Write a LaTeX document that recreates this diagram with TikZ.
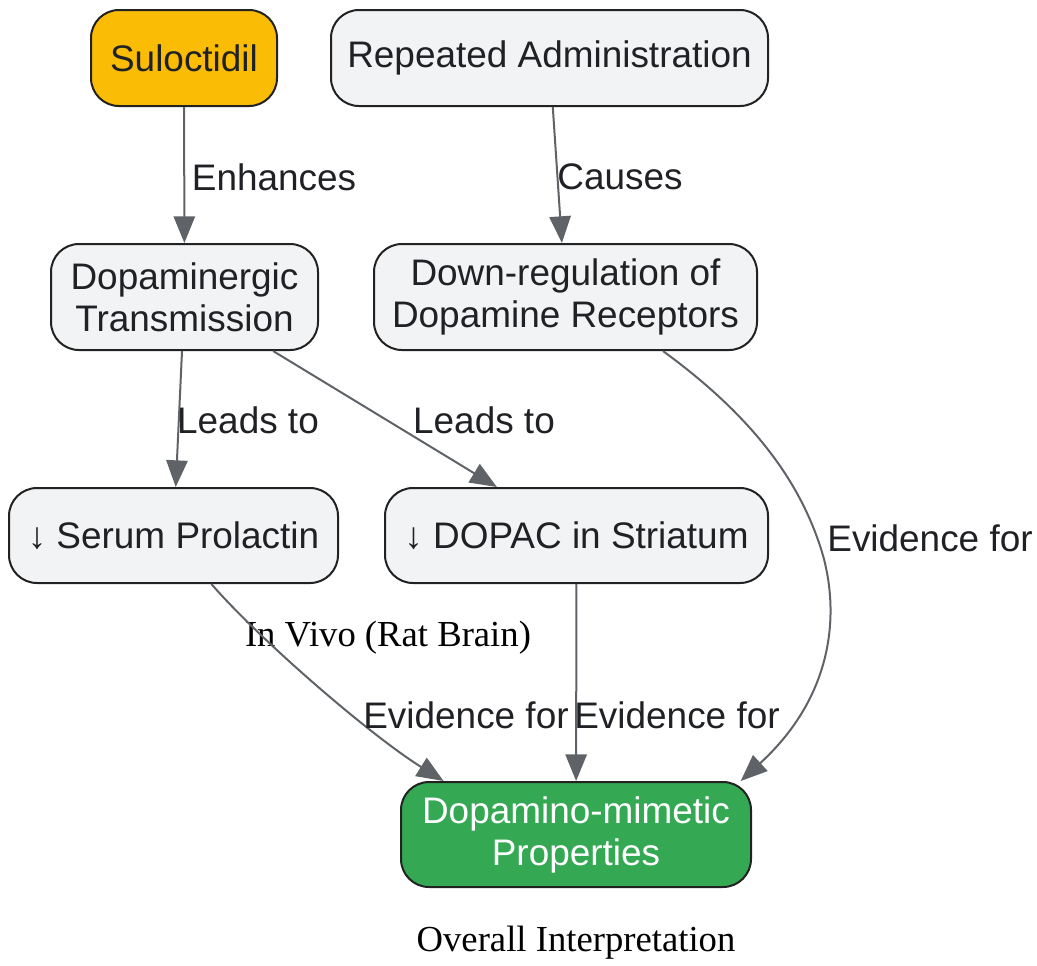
\documentclass[tikz,border=0pt]{standalone}
\usepackage{fontspec}
\setmainfont{Liberation Sans}
\newfontfamily\titlefont{Liberation Serif}
\usetikzlibrary{arrows.meta}

\definecolor{boxgray}{HTML}{F1F3F4}
\definecolor{boxline}{HTML}{222222}
\definecolor{drugyellow}{HTML}{FBBC05}
\definecolor{resultgreen}{HTML}{34A853}
\definecolor{edgegray}{HTML}{5F6368}
\definecolor{inktext}{HTML}{202124}

\begin{document}
\begin{tikzpicture}[x=0.75pt,y=-0.75pt,
	box/.style={draw=boxline, line width=1.5pt, fill=boxgray, rounded corners=21pt,
		text=inktext, align=center, inner sep=0pt,
		font=\fontsize{27.7}{31.5}\selectfont},
	edge/.style={draw=edgegray, line width=1.5pt, -{Triangle[length=20pt,width=16pt]}},
	lbl/.style={text=inktext, font=\fontsize{27.7}{31.5}\selectfont},
	grouptitle/.style={font=\titlefont\fontsize{27.5}{31}\selectfont}]
	\useasboundingbox (0,0) rectangle (1037,965);
	% boxes
	\node[box, fill=drugyellow, minimum width=139.5pt, minimum height=72pt] (sul) at (184,58) {Suloctidil};
	\node[box, minimum width=327.75pt, minimum height=72pt] (rep) at (549.5,58) {Repeated Administration};
	\node[box, minimum width=200.25pt, minimum height=79.5pt] (dop) at (184.5,297) {Dopaminergic\\Transmission};
	\node[box, minimum width=287.25pt, minimum height=79.5pt] (down) at (565.5,297) {Down-regulation of\\Dopamine Receptors};
	\node[box, minimum width=246.75pt, minimum height=71.25pt] (prl) at (173.5,535.5) {↓ Serum Prolactin};
	\node[box, minimum width=287.25pt, minimum height=71.25pt] (dopac) at (576.5,535.5) {↓ DOPAC in Striatum};
	\node[box, fill=resultgreen, text=white, minimum width=262.5pt, minimum height=78.75pt] (mim) at (576,834.5) {Dopamino-mimetic\\Properties};
	% group titles
	\node[grouptitle] (vivo) at (388,638) {In Vivo (Rat Brain)};
	\node[grouptitle] (overall) at (576,943) {Overall Interpretation};
	% edges
	\draw[edge] (sul) -- (dop);
	\draw[edge] (rep) -- (down);
	\draw[edge] (dop) -- (prl);
	\draw[edge] (dop) -- (dopac);
	\draw[edge] (dopac) -- (mim);
	\draw[edge] (prl.-52) .. controls (260,640) and (370,735) .. (mim.158);
	\draw[edge] (down.-29) .. controls (730,400) and (790,460) .. (818,540)
		.. controls (840,600) and (840,690) .. (mim.18);
	% edge labels
	\node[lbl] (l1) at (274,177) {Enhances};
	\node[lbl] (l2) at (620,177) {Causes};
	\node[lbl] (l3) at (248,420) {Leads to};
	\node[lbl] (l4) at (484,420) {Leads to};
	\node[lbl] (l5) at (930,538) {Evidence for};
	\node[lbl] (l6) at (466,715) {Evidence for};
	\node[lbl] (l7) at (677,715) {Evidence for};
\end{tikzpicture}
\end{document}
